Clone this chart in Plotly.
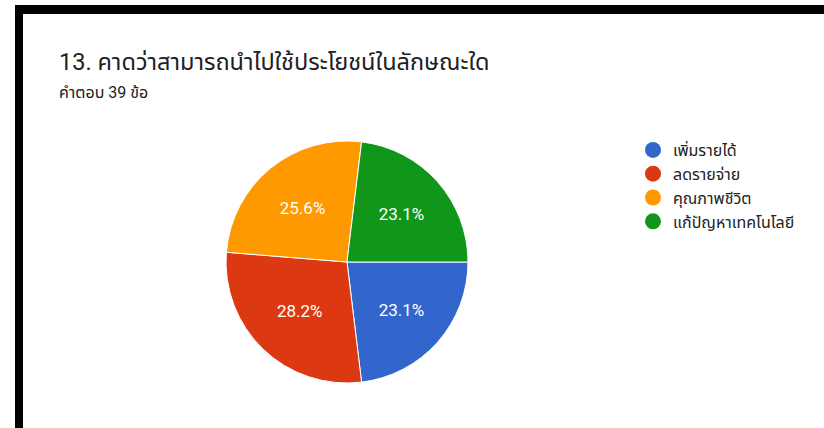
import plotly.graph_objects as go

labels = ["เพิ่มรายได้", "ลดรายจ่าย", "คุณภาพชีวิต", "แก้ปัญหาเทคโนโลยี"]
values = [9, 11, 10, 9]
colors = ["#3366cc", "#dc3912", "#ff9900", "#109618"]
title_text = "13. คาดว่าสามารถนำไปใช้ประโยชน์ในลักษณะใด"
subtitle_text = "คำตอบ 39 ข้อ"

W, H = 824, 428
FONT = "Roboto, 'Noto Sans Thai', 'Noto Sans', sans-serif"

fig = go.Figure()
fig.add_trace(go.Pie(
    labels=labels, values=values, sort=False, direction="clockwise", rotation=90,
    marker=dict(colors=colors, line=dict(color="white", width=1)),
    texttemplate="%{percent:.1%}", textposition="inside",
    insidetextfont=dict(color="white", size=17, family=FONT),
    showlegend=False, hoverinfo="label+percent",
    domain=dict(x=[226 / W, 468 / W], y=[1 - 383 / H, 1 - 141 / H]),
))

for i, (lab, col) in enumerate(zip(labels, colors)):
    fig.add_trace(go.Scatter(
        x=[None], y=[None], mode="markers", name=lab, legendgroup=str(i),
        marker=dict(symbol="circle", size=16, color=col),
    ))

fig.add_annotation(text=title_text, x=57 / W, y=1 - 62 / H, xref="paper", yref="paper",
                   xanchor="left", yanchor="middle", showarrow=False,
                   font=dict(size=23.5, color="#202124", family=FONT))
fig.add_annotation(text=subtitle_text, x=57 / W, y=1 - 92 / H, xref="paper", yref="paper",
                   xanchor="left", yanchor="middle", showarrow=False,
                   font=dict(size=16, color="#202124", family=FONT))

# black frame
fig.add_shape(type="rect", xref="paper", yref="paper", x0=15 / W, x1=1, y0=1 - 14 / H, y1=1 - 5 / H,
              fillcolor="black", line=dict(width=0), layer="above")
fig.add_shape(type="rect", xref="paper", yref="paper", x0=15 / W, x1=23 / W, y0=0, y1=1 - 5 / H,
              fillcolor="black", line=dict(width=0), layer="above")

fig.update_layout(
    width=W, height=H,
    margin=dict(l=0, r=0, t=0, b=0),
    paper_bgcolor="white", plot_bgcolor="white",
    xaxis=dict(visible=False), yaxis=dict(visible=False),
    legend=dict(x=633 / W, y=1 - 133 / H, xanchor="left", yanchor="top",
                font=dict(size=16, color="#222222", family=FONT),
                tracegroupgap=0, itemsizing="trace", bgcolor="rgba(0,0,0,0)"),
    font=dict(family=FONT),
)

fig.write_html("out.html", config={"displayModeBar": False},
               post_script="document.body.style.margin='0';document.body.style.overflow='hidden';")
